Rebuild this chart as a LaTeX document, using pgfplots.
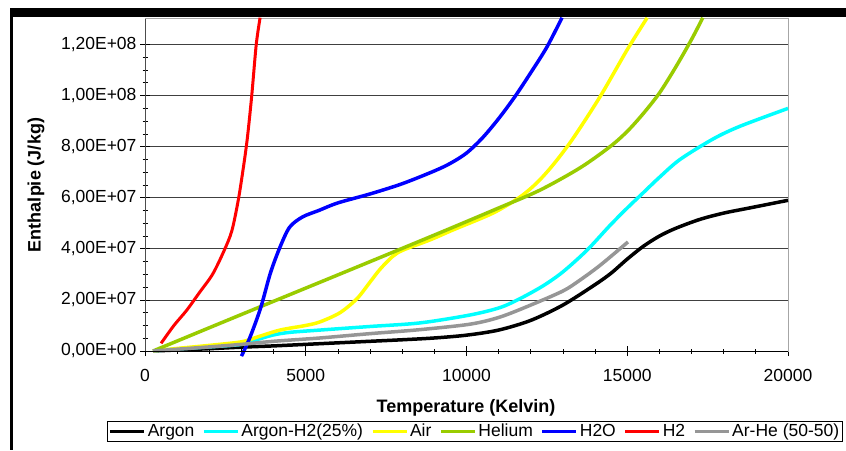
\documentclass[border=0pt]{standalone}
\usepackage{pgfplots}
\pgfplotsset{compat=1.18}
\usepackage{fontspec}
\setmainfont{Liberation Sans}
\definecolor{hel}{RGB}{153,204,0}
\definecolor{grl}{RGB}{150,150,150}
\definecolor{cya}{RGB}{0,255,255}
\definecolor{yel}{RGB}{255,255,0}
\definecolor{blu}{RGB}{0,0,255}
\definecolor{rd}{RGB}{255,0,0}
\begin{document}
\begin{tikzpicture}[x=1pt,y=1pt]
\path[use as bounding box] (0,0) rectangle (846,450);
\fill[white] (0,0) rectangle (846,450);
\begin{axis}[
 at={(145pt,99pt)}, anchor=south west, scale only axis, width=643pt, height=332pt,
 xmin=0,xmax=20000,ymin=0,ymax=1.3e8,
 clip=false,
 axis line style={draw=gray!70, line width=1pt},
 tick pos=left,
 xtick={0,5000,10000,15000,20000}, xticklabels={0,5000,10000,15000,20000},
 ytick={0,2e7,4e7,6e7,8e7,1e8,1.2e8},
 yticklabels={{0,00E+00},{2,00E+07},{4,00E+07},{6,00E+07},{8,00E+07},{1,00E+08},{1,20E+08}},
 minor x tick num=4, minor y tick num=3,
 tick align=center, major tick length=10pt, minor tick length=5pt,
 tick style={black, line width=0.8pt},
 ymajorgrids, grid style={black!75, line width=0.8pt},
 ticklabel style={font=\fontsize{17.5}{20}\selectfont},
 xticklabel style={yshift=-10pt},
 scaled y ticks=false, scaled x ticks=false,
 legend columns=7,
 legend style={at={(0.5132,-0.241)}, anchor=center, draw=black, line width=0.8pt,
   font=\fontsize{17.5}{20}\selectfont, inner sep=1pt,
   /tikz/every even column/.append style={column sep=6pt}},
 legend image code/.code={\draw[#1, line width=3pt] (0pt,0pt) -- (34pt,0pt);},
 every axis plot/.append style={line width=3.5pt, no marks},
 after end axis/.code={
   \draw[black,line width=1pt] (rel axis cs:0,0) -- (rel axis cs:1,0);
   \draw[black!70,line width=1pt] (rel axis cs:0,0) -- (rel axis cs:0,1);
 },
]
\addplot[black, smooth] coordinates {(250,0)(1000,4e5)(2000,9e5)(3000,1.5e6)(4000,2e6)(5000,2.6e6)(6000,3.2e6)(7000,3.8e6)(8000,4.4e6)(9000,5.1e6)(10000,6.2e6)(11000,8.2e6)(12000,1.2e7)(13000,1.8e7)(14000,2.6e7)(14500,3.05e7)(15000,3.6e7)(15500,4.1e7)(16000,4.5e7)(16500,4.8e7)(17250,5.15e7)(18000,5.4e7)(18800,5.6e7)(20000,5.9e7)};
\addlegendentry{Argon}
\addplot[cya, smooth] coordinates {(250,0)(1000,8e5)(2000,1.6e6)(3000,2.6e6)(3500,4.5e6)(4000,6.3e6)(4500,7.3e6)(5443,8.2e6)(7000,9.6e6)(8554,1.1e7)(10109,1.41e7)(11042,1.7e7)(11664,2.05e7)(12380,2.55e7)(13000,3.1e7)(13750,3.95e7)(14450,4.9e7)(15000,5.6e7)(15500,6.2e7)(16000,6.8e7)(16641,7.5e7)(17667,8.3e7)(18507,8.8e7)(20000,9.5e7)};
\addlegendentry{Argon-H2(25\%)}
\addplot[yel, smooth] coordinates {(250,0)(1000,1e6)(2000,2.2e6)(3000,3.6e6)(3500,5.5e6)(4200,8.2e6)(5000,1.0e7)(5443,1.14e7)(6065,1.5e7)(6594,2.05e7)(7000,2.7e7)(7310,3.2e7)(7700,3.7e7)(8025,3.95e7)(8865,4.35e7)(9580,4.74e7)(10824,5.4e7)(11664,6.03e7)(12200,6.6e7)(12700,7.3e7)(13300,8.3e7)(14150,9.95e7)(15000,1.18e8)(15620,1.305e8)};
\addlegendentry{Air}
\addplot[hel, smooth] coordinates {(250,0)(3000,1.43e7)(6000,2.98e7)(9000,4.54e7)(11000,5.6e7)(12286,6.3e7)(13530,7.17e7)(14463,8.0e7)(15000,8.6e7)(15500,9.3e7)(16000,1.01e8)(16500,1.11e8)(17000,1.22e8)(17350,1.305e8)};
\addlegendentry{Helium}
\addplot[blu, smooth] coordinates {(3000,-2e6)(3270,5.5e6)(3600,1.7e7)(3900,3.05e7)(4200,4.07e7)(4500,4.85e7)(4900,5.25e7)(5400,5.5e7)(6000,5.8e7)(7000,6.15e7)(8000,6.55e7)(9000,7.05e7)(9500,7.35e7)(10000,7.75e7)(10500,8.35e7)(11000,9.1e7)(11500,9.95e7)(12000,1.09e8)(12500,1.19e8)(12970,1.305e8)};
\addlegendentry{H2O}
\addplot[rd, smooth, line width=3pt] coordinates {(500,3e6)(900,1e7)(1300,1.6e7)(1700,2.3e7)(2100,3.0e7)(2450,3.9e7)(2700,4.7e7)(2900,5.9e7)(3050,7.1e7)(3180,8.3e7)(3320,1.0e8)(3460,1.2e8)(3580,1.305e8)};
\addlegendentry{H2}
\addplot[grl, smooth] coordinates {(250,0)(1000,7e5)(2000,1.6e6)(3000,2.6e6)(4000,3.8e6)(5443,5.1e6)(7000,6.8e6)(8500,8.3e6)(10109,1.05e7)(11042,1.33e7)(12000,1.8e7)(13000,2.35e7)(13500,2.75e7)(14150,3.35e7)(15023,4.27e7)};
\addlegendentry{Ar-He (50-50)}
\end{axis}
\fill[black] (9.5,0) rectangle (12.5,441.5);
\fill[black] (9.5,433) rectangle (846,441.5);
\node[font=\fontsize{18}{20}\selectfont\bfseries] at (466,42) {Temperature (Kelvin)};
\node[font=\fontsize{18}{20}\selectfont\bfseries, rotate=90] at (36,265) {Enthalpie (J/kg)};
\end{tikzpicture}
\end{document}
